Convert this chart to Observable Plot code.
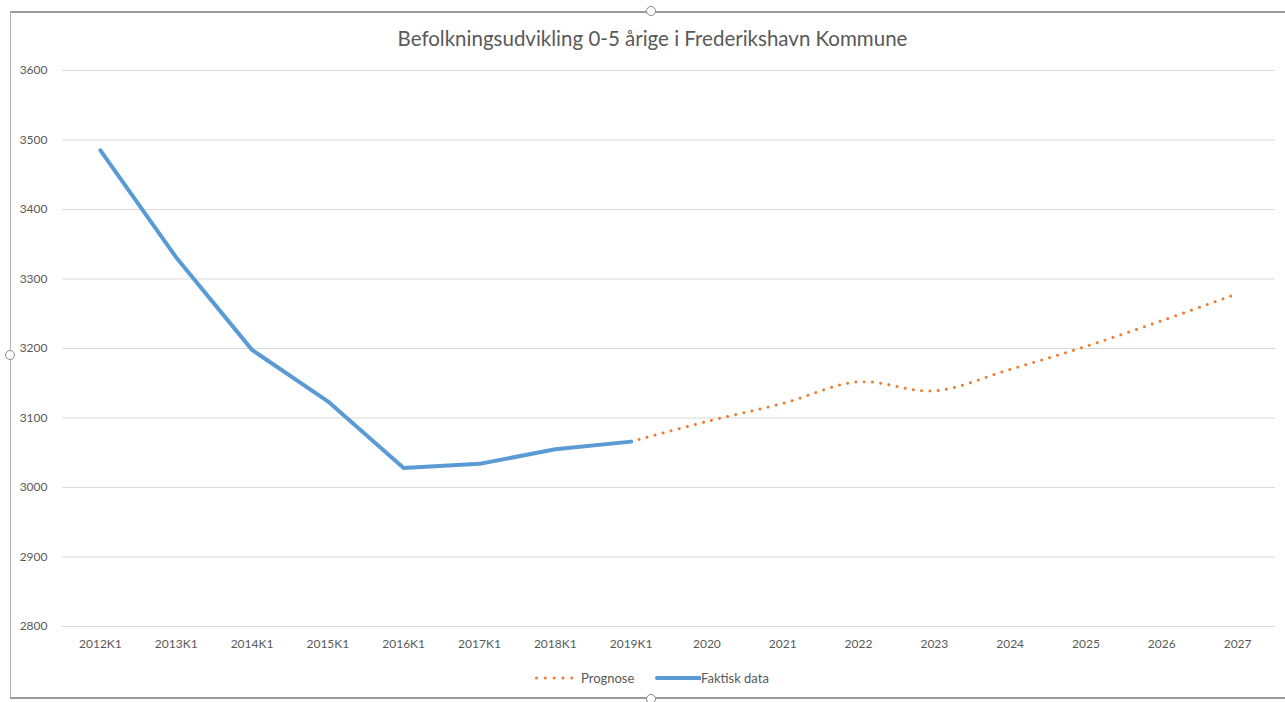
<!DOCTYPE html>
<html>
<head>
<meta charset="utf-8">
<script src="https://cdn.jsdelivr.net/npm/d3@7"></script>
<script src="https://cdn.jsdelivr.net/npm/@observablehq/plot@0.6"></script>
<style>
  html, body { margin: 0; padding: 0; background: #fff; }
  body { width: 1285px; height: 702px; position: relative; overflow: hidden; font-family: Lato, "Open Sans", sans-serif; }
  #frame { position: absolute; left: 10px; top: 11px; width: 1290px; height: 688px; border-top: 2px solid #9a9a9a; border-left: 1px solid #b0b0b0; border-bottom: 2px solid #9a9a9a; box-sizing: border-box; }
  .handle { position: absolute; width: 10px; height: 10px; border: 1.5px solid #8a8a8a; border-radius: 50%; background: #fff; box-sizing: border-box; }
  #title { position: absolute; left: 0; top: 26px; width: 1305px; text-align: center; font-size: 20.5px; color: #595959; }
  #chart { position: absolute; left: 0; top: 58px; }
  #legend { position: absolute; top: 670px; left: 0; width: 1285px; font-size: 13px; color: #595959; }
  .lg { position: absolute; top: 0; display: flex; align-items: center; height: 16px; }
</style>
</head>
<body>
<div id="frame"></div>
<div class="handle" style="left:646px;top:6px"></div>
<div class="handle" style="left:5px;top:350px"></div>
<div class="handle" style="left:646px;top:694px"></div>
<div id="title">Befolkningsudvikling 0-5 årige i Frederikshavn Kommune</div>
<div id="chart"></div>
<div id="legend">
  <div class="lg" style="left:534px"><svg width="40" height="16"><line x1="2.5" y1="8" x2="38" y2="8" stroke="#ED7D31" stroke-width="3" stroke-linecap="round" stroke-dasharray="0.01 8.8"/></svg><span style="margin-left:7px">Prognose</span></div>
  <div class="lg" style="left:655px"><svg width="46" height="16"><line x1="2" y1="8" x2="45" y2="8" stroke="#5B9BD5" stroke-width="4" stroke-linecap="round"/></svg><span>Faktisk data</span></div>
</div>
<script>
const categories = ["2012K1","2013K1","2014K1","2015K1","2016K1","2017K1","2018K1","2019K1","2020","2021","2022","2023","2024","2025","2026","2027"];
const faktiskCats = ["2012K1","2013K1","2014K1","2015K1","2016K1","2017K1","2018K1","2019K1"];
const faktiskValues = [3485, 3331, 3198, 3124, 3028, 3034, 3055, 3066];
const prognoseCats = ["2019K1","2020","2021","2022","2023","2024","2025","2026","2027"];
const prognoseValues = [3066, 3095, 3121, 3152, 3139, 3170, 3203, 3240, 3279];
const yTicks = [2800, 2900, 3000, 3100, 3200, 3300, 3400, 3500, 3600];

const faktisk = faktiskCats.map((c, i) => ({cat: c, value: faktiskValues[i]}));
const prognose = prognoseCats.map((c, i) => ({cat: c, value: prognoseValues[i]}));

const chart = Plot.plot({
  width: 1285,
  height: 604,
  marginTop: 12,
  marginBottom: 36,
  marginLeft: 62,
  marginRight: 10,
  style: {fontFamily: "Lato, 'Open Sans', sans-serif", fontSize: "12px", color: "#595959", background: "transparent"},
  x: {type: "point", domain: categories, padding: 0.5, round: false, label: null},
  y: {domain: [2800, 3600], ticks: yTicks, label: null},
  marks: [
    Plot.gridY(yTicks, {stroke: "#d9d9d9", strokeOpacity: 1, strokeWidth: 1}),
    Plot.axisY(yTicks, {tickSize: 0, tickPadding: 15, fill: "#595959", label: null, tickFormat: d3.format("d")}),
    Plot.axisX({tickSize: 0, tickPadding: 13, fill: "#595959", label: null}),
    Plot.line(prognose, {x: "cat", y: "value", stroke: "#ED7D31", strokeWidth: 3, strokeLinecap: "round", strokeDasharray: "0.01 8.3", curve: "catmull-rom"}),
    Plot.line(faktisk, {x: "cat", y: "value", stroke: "#5B9BD5", strokeWidth: 4, strokeLinejoin: "round", strokeLinecap: "round"})
  ]
});
document.getElementById("chart").appendChild(chart);
</script>
</body>
</html>
